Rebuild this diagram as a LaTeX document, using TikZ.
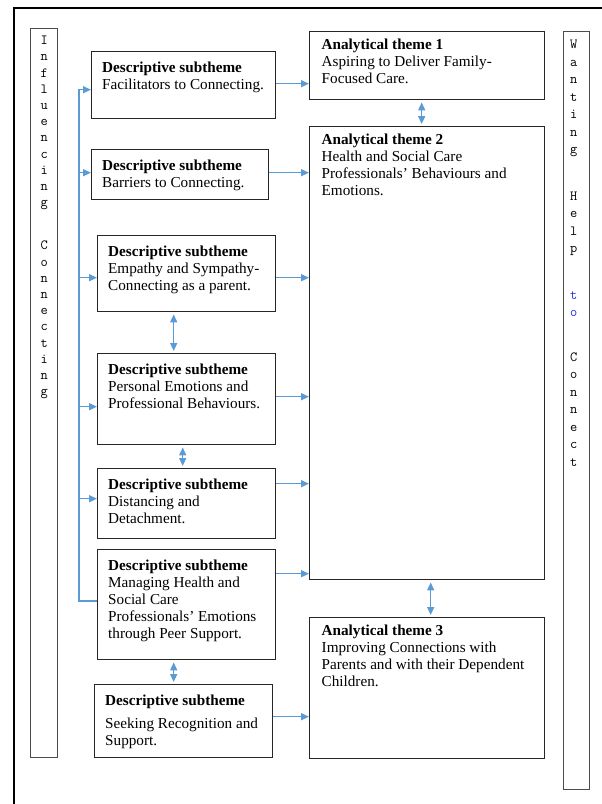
\documentclass[tikz,border=0pt]{standalone}
\usepackage{fontspec}
\setmainfont{Liberation Serif}
\usetikzlibrary{positioning,arrows.meta}

\definecolor{linkblue}{HTML}{5B9BD5}
\definecolor{spellblue}{rgb}{0.15,0.2,0.85}

\tikzset{
  subtheme-box/.style={draw=black!85, line width=1.4pt, anchor=north west, inner xsep=10.5pt, inner ysep=10pt, font=\fontsize{15.2}{17}\selectfont},
  theme-box/.style={subtheme-box, inner xsep=12pt, inner ysep=7pt},
  column-box/.style={draw=black!70, line width=1.3pt, anchor=north west, inner sep=0pt},
  column-text/.style={align=center, inner sep=0pt, font=\ttfamily\fontsize{14}{#1}\selectfont},
  link/.style={draw=linkblue, line width=1.5pt},
  arrow/.style={link, -{Triangle[length=8pt,width=7pt]}},
  twoway/.style={link, {Triangle[length=8pt,width=7pt]}-{Triangle[length=8pt,width=7pt]}, shorten >=2pt, shorten <=2pt}
}
\newcommand{\boxbody}[3]{\parbox[c][#2][t]{#1}{\raggedright #3}}

\begin{document}
\begin{tikzpicture}[x=1pt, y=-1pt]
	\useasboundingbox (0,0) rectangle (602,804);

	% page frame
	\draw [line width=1.2pt] (14,806) -- (14,8) -- (604,8);

	% side columns
	\node [column-box, minimum width=27pt, minimum height=729pt] (influence-box) at (30,28) {};
	\node [column-text=16.2, below=8pt of influence-box.north] (influence-text)
		{I\\n\\f\\l\\u\\e\\n\\c\\i\\n\\g\\[27pt]C\\o\\n\\n\\e\\c\\t\\i\\n\\g};

	\node [column-box, minimum width=26pt, minimum height=758pt] (wanting-box) at (563,31) {};
	\node [column-text=17.5, below=9pt of wanting-box.north, xshift=-3pt] (wanting-text)
		{W\\a\\n\\t\\i\\n\\g\\[29pt]H\\e\\l\\p\\[29pt]\textcolor{spellblue}{t}\\\textcolor{spellblue}{o}\\[27pt]C\\o\\n\\n\\e\\c\\t};

	% descriptive subthemes
	\node [subtheme-box] (facil) at (91,51) {\boxbody{163pt}{47pt}{\textbf{Descriptive subtheme}\\Facilitators to Connecting.}};
	\node [subtheme-box] (barrier) at (91,149) {\boxbody{156pt}{30pt}{\textbf{Descriptive subtheme}\\Barriers to Connecting.}};
	\node [subtheme-box] (empathy) at (97,235) {\boxbody{157pt}{56pt}{\textbf{Descriptive subtheme}\\Empathy and Sympathy-\\Connecting as a parent.}};
	\node [subtheme-box] (personal) at (97,353) {\boxbody{157pt}{71pt}{\textbf{Descriptive subtheme}\\Personal Emotions and\\Professional Behaviours.}};
	\node [subtheme-box] (distance) at (97,468) {\boxbody{157pt}{50pt}{\textbf{Descriptive subtheme}\\Distancing and\\Detachment.}};
	\node [subtheme-box] (peer) at (97,549) {\boxbody{157pt}{90pt}{\textbf{Descriptive subtheme}\\Managing Health and\\Social Care\\Professionals’ Emotions\\through Peer Support.}};
	\node [subtheme-box] (recognition) at (94,684) {\boxbody{157pt}{53pt}{\textbf{Descriptive subtheme}\\[6pt]Seeking Recognition and\\Support.}};

	% analytical themes
	\node [theme-box] (aspire) at (309,31) {\boxbody{211pt}{54pt}{\textbf{Analytical theme 1}\\Aspiring to Deliver Family-\\Focused Care.}};
	\node [theme-box] (hscp) at (309,126) {\boxbody{211pt}{439pt}{\textbf{Analytical theme 2}\\Health and Social Care\\Professionals’ Behaviours and\\Emotions.}};
	\node [theme-box] (improve) at (309,617) {\boxbody{211pt}{127pt}{\textbf{Analytical theme 3}\\Improving Connections with\\Parents and with their Dependent\\Children.}};

	% trunk on the left
	\coordinate (trunk-top) at (79,89);
	\coordinate (trunk-bottom) at (79,601);
	\draw [link] (trunk-top) -- (trunk-bottom) -- (trunk-bottom -| peer.west);

	\draw [arrow] ([yshift=-4.5pt]trunk-top |- facil.west) -- ([yshift=-4.5pt]facil.west);
	\draw [arrow] ([yshift=2pt]trunk-top |- barrier.west) -- ([yshift=2pt]barrier.west);
	\draw [arrow] ([yshift=-4pt]trunk-top |- empathy.west) -- ([yshift=-4pt]empathy.west);
	\draw [arrow] ([yshift=-7.5pt]trunk-top |- personal.west) -- ([yshift=-7.5pt]personal.west);
	\draw [arrow] ([yshift=5pt]trunk-top |- distance.west) -- ([yshift=5pt]distance.west);

	% subthemes to themes
	\draw [arrow] ([yshift=1.5pt]facil.east) -- ([yshift=1.5pt]facil.east -| aspire.west);
	\draw [arrow] ([yshift=2pt]barrier.east) -- ([yshift=2pt]barrier.east -| hscp.west);
	\draw [arrow] ([yshift=-4pt]empathy.east) -- ([yshift=-4pt]empathy.east -| hscp.west);
	\draw [arrow] ([yshift=2.5pt]personal.east) -- ([yshift=2.5pt]personal.east -| hscp.west);
	\draw [arrow] ([yshift=20pt]distance.east) -- ([yshift=20pt]distance.east -| hscp.west);
	\draw [arrow] ([yshift=31pt]peer.east) -- ([yshift=31pt]peer.east -| hscp.west);
	\draw [arrow] ([yshift=4.5pt]recognition.east) -- ([yshift=4.5pt]recognition.east -| improve.west);

	% two-way links
	\draw [twoway] ([xshift=-5.5pt]aspire.south) -- ([xshift=-5.5pt]aspire.south |- hscp.north);
	\draw [twoway] ([xshift=3.5pt]hscp.south) -- ([xshift=3.5pt]hscp.south |- improve.north);
	\draw [twoway] ([xshift=-13pt]empathy.south) -- ([xshift=-13pt]empathy.south |- personal.north);
	\draw [twoway] ([xshift=-4pt]personal.south) -- ([xshift=-4pt]personal.south |- distance.north);
	\draw [twoway] ([xshift=-13pt]peer.south) -- ([xshift=-13pt]peer.south |- recognition.north);

\end{tikzpicture}
\end{document}
